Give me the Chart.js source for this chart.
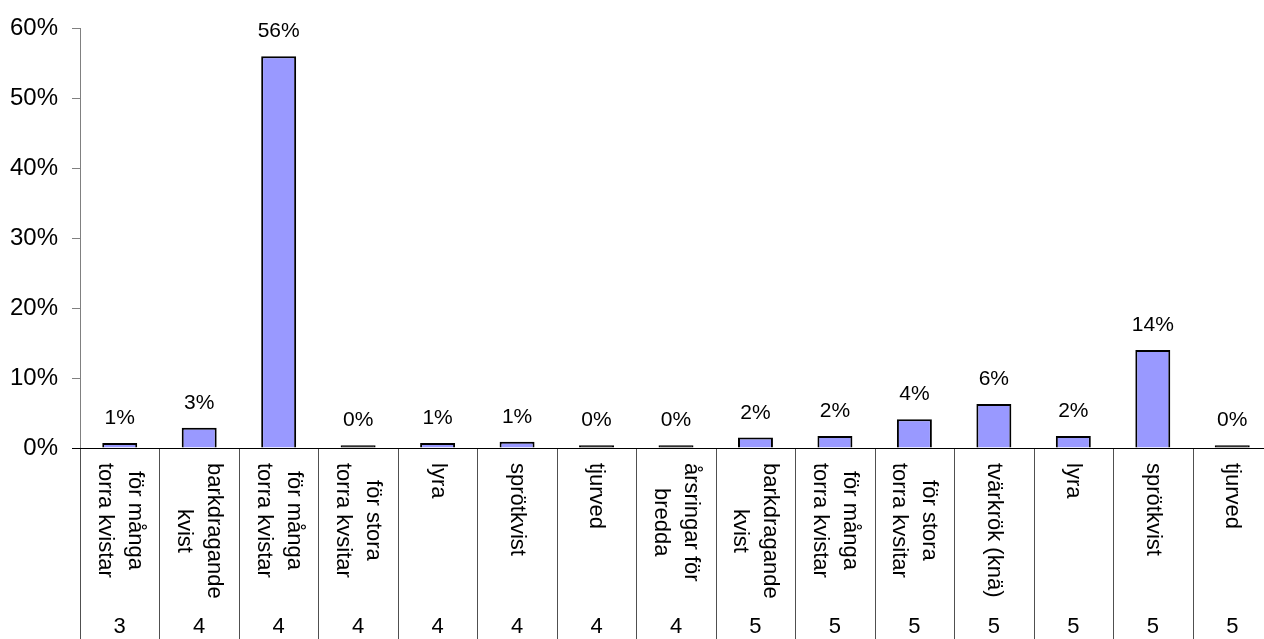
<!DOCTYPE html>
<html>
<head>
<meta charset="utf-8">
<script src="https://cdn.jsdelivr.net/npm/chart.js@4"></script>
<style>
  html, body { margin: 0; padding: 0; background: #fff; overflow: hidden; }
  #wrap { position: absolute; left: 0; top: 0; width: 1280px; height: 639px; }
</style>
</head>
<body>
<div id="wrap"><canvas id="chart"></canvas></div>
<script>
// Category labels (one array entry per text line), grouped by class
const categories = [
  ['för många', 'torra kvistar'],
  ['barkdragande', 'kvist'],
  ['för många', 'torra kvistar'],
  ['för stora', 'torra kvsitar'],
  ['lyra'],
  ['sprötkvist'],
  ['tjurved'],
  ['årsringar för', 'bredda'],
  ['barkdragande', 'kvist'],
  ['för många', 'torra kvistar'],
  ['för stora', 'torra kvsitar'],
  ['tvärkrök (knä)'],
  ['lyra'],
  ['sprötkvist'],
  ['tjurved']
];
const groups = ['3', '4', '4', '4', '4', '4', '4', '4', '5', '5', '5', '5', '5', '5', '5'];

// Share of defects, percent
const shares = [0.7, 2.9, 56, 0.4, 0.7, 0.9, 0.4, 0.4, 1.5, 1.7, 4.1, 6.3, 1.7, 14, 0.4];

const yTicks = [0, 10, 20, 30, 40, 50, 60];

const FONT = '"Liberation Sans", Arial, sans-serif';

// Value labels above each bar
const valueLabels = {
  id: 'valueLabels',
  afterDatasetsDraw(chart) {
    const ctx = chart.ctx;
    const meta = chart.getDatasetMeta(0);
    ctx.save();
    ctx.font = '21px ' + FONT;
    ctx.fillStyle = '#000';
    ctx.textAlign = 'center';
    ctx.textBaseline = 'alphabetic';
    meta.data.forEach((bar, i) => {
      ctx.fillText(Math.round(shares[i]) + '%', bar.x, bar.y - 19);
    });
    ctx.restore();
  }
};

// Axis line, category separators and the two rows of x labels
const categoryAxis = {
  id: 'categoryAxis',
  afterDraw(chart) {
    const ctx = chart.ctx;
    const area = chart.chartArea;
    const n = categories.length;
    const w = (area.right - area.left) / n;
    const bottom = chart.height;
    ctx.save();

    // separators below the axis
    ctx.strokeStyle = '#505050';
    ctx.lineWidth = 1;
    for (let i = 0; i <= n; i++) {
      const x = Math.round(area.left + i * w) + 0.5;
      ctx.beginPath();
      ctx.moveTo(x, area.bottom);
      ctx.lineTo(x, bottom);
      ctx.stroke();
    }

    // category axis line
    ctx.strokeStyle = '#000';
    ctx.beginPath();
    ctx.moveTo(area.left - 8, area.bottom + 0.5);
    ctx.lineTo(area.right, area.bottom + 0.5);
    ctx.stroke();

    ctx.fillStyle = '#000';
    ctx.font = '22px ' + FONT;
    const lineH = 30;
    categories.forEach((lines, i) => {
      const cx = area.left + (i + 0.5) * w;
      const len = Math.max(...lines.map(l => ctx.measureText(l).width));
      ctx.save();
      ctx.translate(cx, area.bottom + 15);
      ctx.rotate(Math.PI / 2);
      ctx.textAlign = 'center';
      ctx.textBaseline = 'middle';
      lines.forEach((line, j) => {
        ctx.fillText(line, len / 2, (j - (lines.length - 1) / 2) * lineH);
      });
      ctx.restore();
    });

    ctx.font = '22px ' + FONT;
    ctx.textAlign = 'center';
    ctx.textBaseline = 'middle';
    groups.forEach((g, i) => {
      ctx.fillText(g, area.left + (i + 0.5) * w, 627);
    });
    ctx.restore();
  }
};

new Chart(document.getElementById('chart'), {
  type: 'bar',
  data: {
    labels: categories.map(c => c.join(' ')),
    datasets: [{
      data: shares,
      // bars too thin to show any fill come out as solid outline
      backgroundColor: shares.map(v => v < 0.5 ? '#000' : '#9999FF'),
      borderColor: '#000',
      borderWidth: 2,
      barPercentage: 0.44,
      categoryPercentage: 1
    }]
  },
  options: {
    responsive: true,
    maintainAspectRatio: false,
    animation: false,
    layout: {
      padding: { top: 26, right: 8, bottom: 191, left: 0 }
    },
    plugins: {
      legend: { display: false },
      tooltip: { enabled: false }
    },
    scales: {
      x: {
        display: false
      },
      y: {
        min: 0,
        max: 60,
        afterFit(scale) {
          scale.width = 80;
        },
        afterBuildTicks(scale) {
          scale.ticks = yTicks.map(v => ({ value: v }));
        },
        ticks: {
          color: '#000',
          padding: 14,
          font: { family: FONT, size: 24 },
          callback: v => v + '%'
        },
        grid: {
          drawOnChartArea: false,
          drawTicks: true,
          tickLength: 8,
          color: '#808080'
        },
        border: {
          color: '#808080',
          width: 1
        }
      }
    }
  },
  plugins: [valueLabels, categoryAxis]
});
</script>
</body>
</html>
